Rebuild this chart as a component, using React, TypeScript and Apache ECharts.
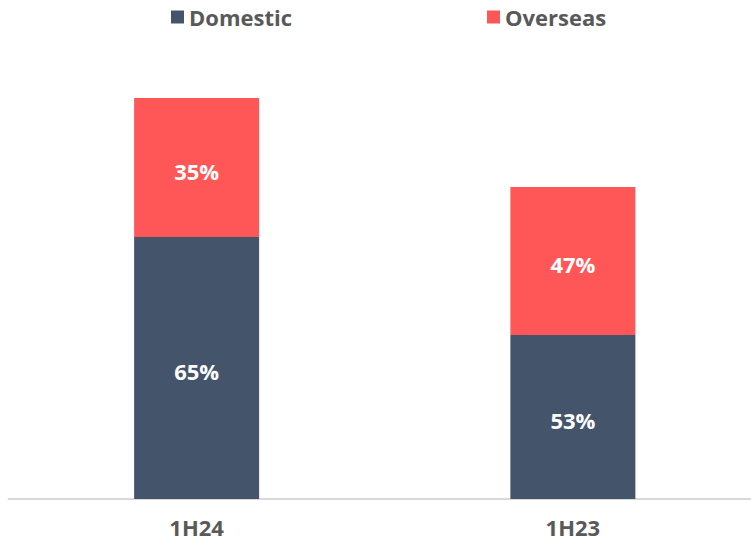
import React, { useEffect, useRef } from "react";
import * as echarts from "echarts";

const categories = ["1H24", "1H23"];
const domesticValues = [262, 164];
const overseasValues = [139, 148];
const domesticLabels = ["65%", "53%"];
const overseasLabels = ["35%", "47%"];

const FONT = "'Open Sans', 'Noto Sans', sans-serif";

export default function App() {
  const ref = useRef<HTMLDivElement>(null);
  useEffect(() => {
    if (!ref.current) return;
    const chart = echarts.init(ref.current, undefined, { renderer: "svg" });
    const legendText = { color: "#595959", fontSize: 22, fontWeight: "bold" as const, fontFamily: FONT };
    const barLabel = {
      show: true,
      position: "inside" as const,
      color: "#ffffff",
      fontSize: 22,
      fontWeight: "bold" as const,
      fontFamily: FONT,
      offset: [0, 3],
    };
    chart.setOption({
      animation: false,
      legend: [
        {
          data: ["Domestic"],
          left: 171,
          top: 6,
          padding: 0,
          icon: "rect",
          itemWidth: 13,
          itemHeight: 13,
          itemGap: 6,
          textStyle: legendText,
        },
        {
          data: ["Overseas"],
          left: 487,
          top: 6,
          padding: 0,
          icon: "rect",
          itemWidth: 13,
          itemHeight: 13,
          itemGap: 6,
          textStyle: legendText,
        },
      ],
      grid: { left: 8.5, right: 0, top: 49, bottom: 45, containLabel: false },
      xAxis: {
        type: "category",
        data: categories,
        axisLine: { show: true, lineStyle: { color: "#d9d9d9", width: 2 } },
        axisTick: { show: false },
        axisLabel: {
          color: "#595959",
          fontSize: 22,
          fontWeight: "bold",
          fontFamily: FONT,
          margin: 17,
        },
      },
      yAxis: {
        type: "value",
        min: 0,
        max: 450,
        show: false,
        splitLine: { show: false },
      },
      series: [
        {
          name: "Domestic",
          type: "bar",
          stack: "total",
          data: domesticValues,
          barWidth: 125,
          itemStyle: { color: "#44546A" },
          label: { ...barLabel, formatter: (p: any) => domesticLabels[p.dataIndex] },
        },
        {
          name: "Overseas",
          type: "bar",
          stack: "total",
          data: overseasValues,
          barWidth: 125,
          itemStyle: { color: "#FF5757" },
          label: { ...barLabel, formatter: (p: any) => overseasLabels[p.dataIndex] },
        },
      ],
    });
    return () => chart.dispose();
  }, []);
  return (
    <div
      style={{ position: "fixed", left: 0, top: 0, width: 751, height: 544, overflow: "hidden", background: "#fff" }}
    >
      <div ref={ref} style={{ width: 761, height: 544 }} />
    </div>
  );
}
